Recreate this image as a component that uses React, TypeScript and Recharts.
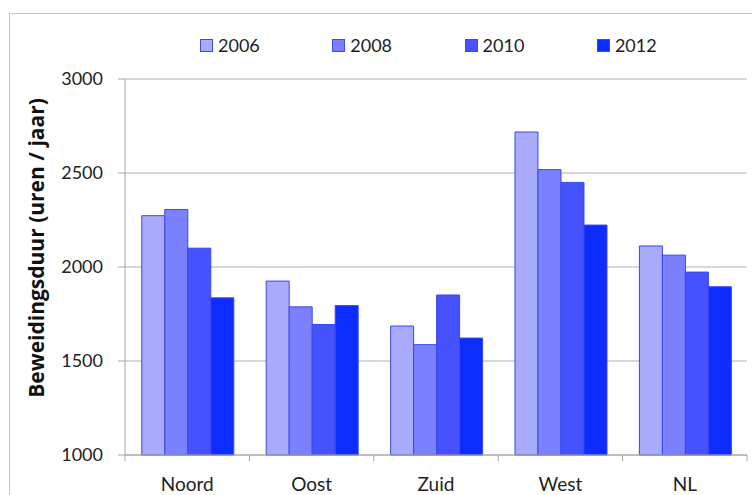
import React from "react";
import { Bar, BarChart, CartesianGrid, Legend, XAxis, YAxis } from "recharts";

const regions = ["Noord", "Oost", "Zuid", "West", "NL"];
const years = ["2006", "2008", "2010", "2012"];
const v2006 = [2273, 1925, 1686, 2718, 2112];
const v2008 = [2306, 1788, 1587, 2518, 2063];
const v2010 = [2100, 1694, 1851, 2450, 1973];
const v2012 = [1836, 1795, 1622, 2223, 1895];
const yTicks = [1000, 1500, 2000, 2500, 3000];

const colors = ["#a8abfb", "#7b81fc", "#4552fd", "#0d2dfe"];
const FONT = "Lato, 'Open Sans', sans-serif";

const W = 752;
const H = 495;
const LEFT = 125;
const RIGHT = 5;
const BAND = (W - LEFT - RIGHT) / regions.length;

const data = regions.map((r, i) => ({
  region: r,
  "2006": v2006[i],
  "2008": v2008[i],
  "2010": v2010[i],
  "2012": v2012[i],
}));

function XTick(props: any) {
  const { x, y, payload, index } = props;
  return (
    <g>
      {index === 0 && (
        <line x1={x - BAND / 2} x2={x - BAND / 2} y1={y} y2={y + 6} stroke="#a6a6a6" />
      )}
      <line x1={x + BAND / 2} x2={x + BAND / 2} y1={y} y2={y + 6} stroke="#a6a6a6" />
      <text x={x} y={y + 36} textAnchor="middle" fontSize={19} fill="#222" fontFamily={FONT}>
        {payload.value}
      </text>
    </g>
  );
}

function LegendBox() {
  return (
    <div style={{ display: "flex", paddingLeft: 200, fontFamily: FONT }}>
      {years.map((y, i) => (
        <div key={y} style={{ width: 132.3, display: "flex", alignItems: "center" }}>
          <span
            style={{
              width: 11,
              height: 11,
              background: colors[i],
              border: "1px solid #3a48ee",
              display: "inline-block",
              marginRight: 5,
            }}
          />
          <span style={{ fontSize: 18, color: "#222", lineHeight: "18px" }}>{y}</span>
        </div>
      ))}
    </div>
  );
}

export default function App() {
  return (
    <div
      style={{
        position: "fixed",
        left: 0,
        top: 0,
        width: W,
        height: H,
        overflow: "hidden",
        background: "#fff",
      }}
    >
      <div
        style={{
          position: "absolute",
          left: 9,
          top: 13,
          width: 900,
          height: 700,
          borderLeft: "1.5px solid #c6c6c6",
          borderTop: "1.5px solid #c6c6c6",
        }}
      />
      <div style={{ position: "absolute", left: 0, top: 0 }}>
        <BarChart
          width={W}
          height={H}
          data={data}
          margin={{ top: 79, right: RIGHT, left: 0, bottom: 0 }}
          barGap={0}
          barCategoryGap="13.5%"
        >
          <CartesianGrid vertical={false} stroke="#b0b0b0" />
          <XAxis
            dataKey="region"
            height={40}
            tickLine={false}
            tickSize={0}
            tickMargin={0}
            axisLine={{ stroke: "#a6a6a6" }}
            tick={<XTick />}
            interval={0}
          />
          <YAxis
            width={LEFT}
            domain={[1000, 3000]}
            ticks={yTicks}
            interval={0}
            tickSize={7}
            tickMargin={15}
            axisLine={{ stroke: "#a6a6a6" }}
            tickLine={{ stroke: "#a6a6a6" }}
            tick={{ fontSize: 18, fill: "#222", fontFamily: FONT }}
            label={{
              content: () => (
                <text
                  x={44}
                  y={248}
                  transform="rotate(-90 44 248)"
                  textAnchor="middle"
                  fontSize={21}
                  fontWeight="bold"
                  fill="#111"
                  fontFamily="'Open Sans', sans-serif"
                >
                  Beweidingsduur (uren / jaar)
                </text>
              ),
            }}
          />
          <Legend
            verticalAlign="middle"
            align="center"
            wrapperStyle={{ top: 36, left: 0, width: W }}
            content={() => <LegendBox />}
          />
          {years.map((y, i) => (
            <Bar
              key={y}
              dataKey={y}
              fill={colors[i]}
              stroke="#3a48ee"
              strokeWidth={1}
              isAnimationActive={false}
            />
          ))}
        </BarChart>
      </div>
    </div>
  );
}
